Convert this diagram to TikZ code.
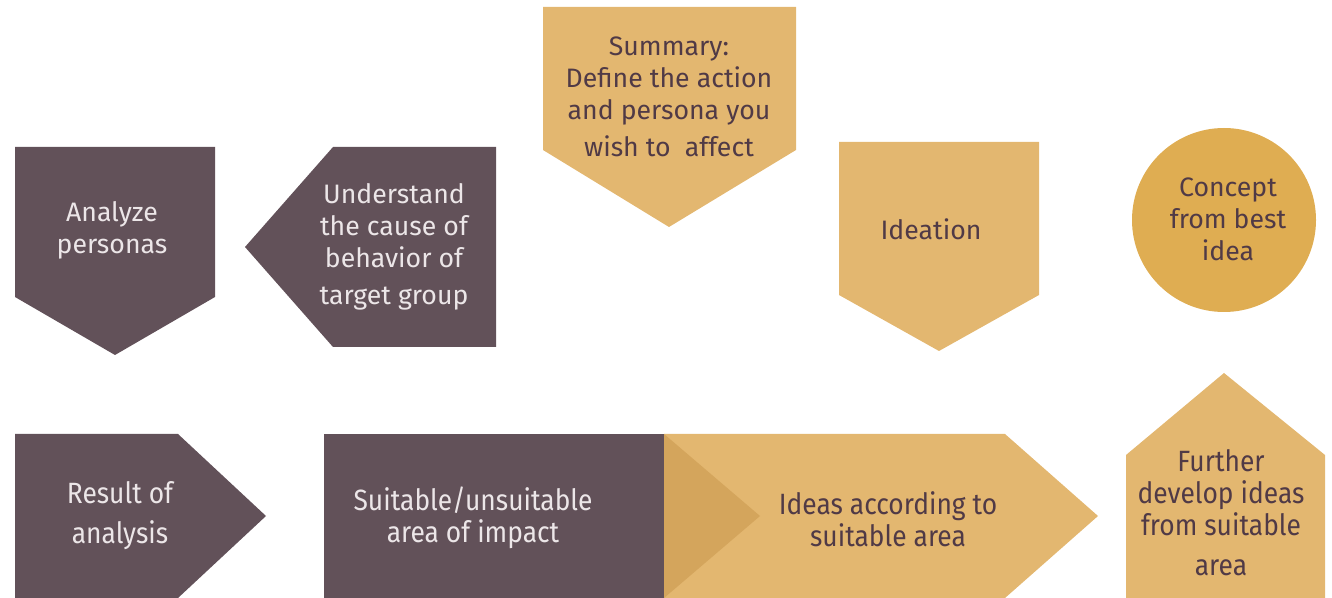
\documentclass[tikz,border=0pt]{standalone}
\usepackage{fontspec}
\setmainfont{Fira Sans}
\newfontfamily\narrowfont[FakeStretch=0.9]{Fira Sans}
\usepackage{xcolor}
\definecolor{plum}{HTML}{625159}
\definecolor{plumtext}{HTML}{503A46}
\definecolor{paletext}{HTML}{ECE6E8}
\definecolor{sand}{HTML}{E3B770}
\definecolor{sanddark}{HTML}{D4A55C}
\definecolor{ochre}{HTML}{DFAD52}

\begin{document}
\begin{tikzpicture}[x=0.75pt, y=-0.75pt,
    lbl/.style={align=center, font=\fontsize{20}{24}\selectfont, inner sep=0pt},
    narrow/.style={font=\fontsize{22}{24}\narrowfont},
    onplum/.style={lbl, text=paletext},
    onsand/.style={lbl, text=plumtext}]
    \useasboundingbox (0,0) rectangle (1332,598);

    % Analyze personas
    \fill[plum] (15,147) -- (215,147) -- (215,297) -- (115,355) -- (15,297) -- cycle;
    \node[onplum] (analyze) at (112,230) {Analyze\\personas};

    % Understand the cause
    \fill[plum] (333,147) -- (496,147) -- (496,347) -- (333,347) -- (245,247) -- cycle;
    \node[onplum] (cause) at (394,247) {Understand\\the cause of\\behavior of\\[4pt]target group};

    % Summary
    \fill[sand] (543,7) -- (796,7) -- (796,150) -- (669,227) -- (543,150) -- cycle;
    \node[onsand] (summary) at (669,97) {Summary:\\Define the action\\and persona you\\[4pt]wish to\ \ affect};

    % Ideation
    \fill[sand] (839,142) -- (1039,142) -- (1039,295) -- (939,351) -- (839,295) -- cycle;
    \node[onsand] (ideation) at (931,229) {Ideation};

    % Concept
    \fill[ochre] (1224,220) circle (92);
    \node[onsand] (concept) at (1228,219) {Concept\\from best\\idea};

    % Result of analysis
    \fill[plum] (15,434) -- (178,434) -- (266,516) -- (178,598) -- (15,598) -- cycle;
    \node[onplum, narrow] (result) at (120,516) {Result of\\[6pt]analysis};

    % Suitable/unsuitable
    \fill[plum] (324,434) rectangle (664,598);
    \node[onplum, narrow] (area) at (473,518) {Suitable/unsuitable\\area of impact};

    % Ideas according to suitable area
    \fill[sand] (664,434) -- (1005,434) -- (1098,516) -- (1005,598) -- (664,598) -- cycle;
    \fill[sanddark] (664,434) -- (760,516) -- (664,598) -- cycle;
    \node[onsand, narrow] (ideas) at (888,519) {Ideas according to\\suitable area};

    % Further develop
    \fill[sand] (1126,455) -- (1224,373) -- (1325,455) -- (1325,598) -- (1126,598) -- cycle;
    \node[onsand, narrow] (further) at (1221,513) {Further\\develop ideas\\from suitable\\[6pt]area};
\end{tikzpicture}
\end{document}
